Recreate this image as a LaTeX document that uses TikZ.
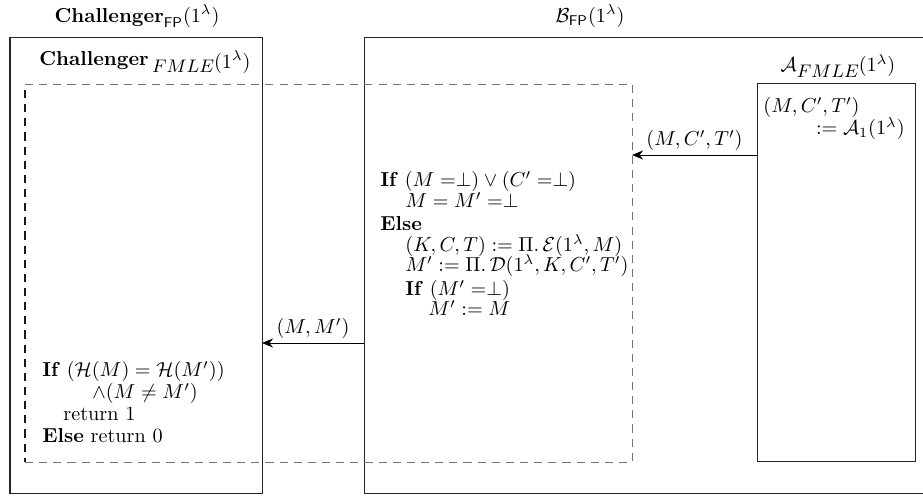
\documentclass[tikz,border=0pt]{standalone}
\usepackage{amsmath,amssymb}
\usetikzlibrary{arrows.meta}
\def\pxu{0.495pt}
\begin{document}
\begin{tikzpicture}[x=\pxu,y=-\pxu,
  box/.style={draw=black!85, line width=0.5pt, inner sep=0pt, outer sep=0pt, anchor=north west},
  region/.style={inner sep=0pt, outer sep=0pt, anchor=north west},
  dline/.style={draw=black!55, dash pattern=on 4pt off 3pt, line width=0.5pt},
  dlinedark/.style={draw=black!90, dash pattern=on 4pt off 3pt, line width=0.5pt},
  txt/.style={anchor=mid west, inner sep=0pt},
  rtxt/.style={anchor=mid east, inner sep=0pt},
  ttl/.style={inner sep=0pt},
  arr/.style={-{Stealth[length=5.5pt,width=4.5pt]}, line width=0.5pt},
  lbl/.style={above, inner sep=2pt}]
\useasboundingbox (0,0) rectangle (923,495);
% boxes
\node[box, minimum width=252*\pxu, minimum height=456*\pxu] (chal) at (10,37) {};
\node[box, minimum width=580*\pxu, minimum height=456*\pxu] (B) at (364,37) {};
\node[box, fill=white, minimum width=158*\pxu, minimum height=378*\pxu] (A) at (757,83) {};
\node[region, minimum width=607*\pxu, minimum height=378*\pxu] (dash) at (25,84) {};
\draw[dline] (dash.north west) -- (dash.north east) -- (dash.south east) -- (dash.south west);
\draw[dlinedark] ([yshift=-3pt]dash.north west) -- (dash.south west);
% titles
\node[ttl] (tchal) at (137,16) {$\textbf{Challenger}_{\mathsf{FP}}(1^{\lambda})$};
\node[ttl] (tB) at (590,16) {$\mathcal{B}_{\mathsf{FP}}(1^{\lambda})$};
\node[ttl] (tinner) at (145,62) {\textbf{Challenger}\,\raisebox{-3.5pt}{\small$FMLE$}\raisebox{-1.5pt}{$(1^{\lambda})$}};
\node[ttl] (tA) at (838,66) {$\mathcal{A}$\raisebox{-3pt}{\small$FMLE$}$(1^{\lambda})$};
% A text
\node[txt] (a1) at (763,108) {$(M,C',T')$};
\node[rtxt] (a2) at (905,130) {$:= \mathcal{A}_1(1^{\lambda})$};
% B text
\node[txt] (b1) at (380,182) {\textbf{If} $(M =\perp) \vee (C' =\perp)$};
\node[txt] (b2) at (405,203) {$M = M' =\perp$};
\node[txt] (b3) at (380,226) {\textbf{Else}};
\node[txt] (b4) at (405,247) {$(K,C,T) := \Pi.\,\mathcal{E}(1^{\lambda}, M)$};
\node[txt] (b5) at (405,267) {$M' := \Pi.\,\mathcal{D}(1^{\lambda}, K, C', T')$};
\node[txt] (b6) at (405,291) {\textbf{If} $(M' =\perp)$};
\node[txt] (b7) at (428,311) {$M' := M$};
% challenger text
\node[txt] (c1) at (42,372) {\textbf{If} $(\mathcal{H}(M) = \mathcal{H}(M'))$};
\node[txt] (c2) at (92,394) {$\wedge (M \neq M')$};
\node[txt] (c3) at (63,416) {return 1};
\node[txt] (c4) at (42,438) {\textbf{Else} return 0};
% arrows
\draw[arr] (A.west |- 0,155) -- node[lbl] (l1) {$(M,C',T')$} (dash.east |- 0,155);
\draw[arr] (B.west |- 0,343) -- node[lbl] (l2) {$(M,M')$} (chal.east |- 0,343);
\end{tikzpicture}
\end{document}
